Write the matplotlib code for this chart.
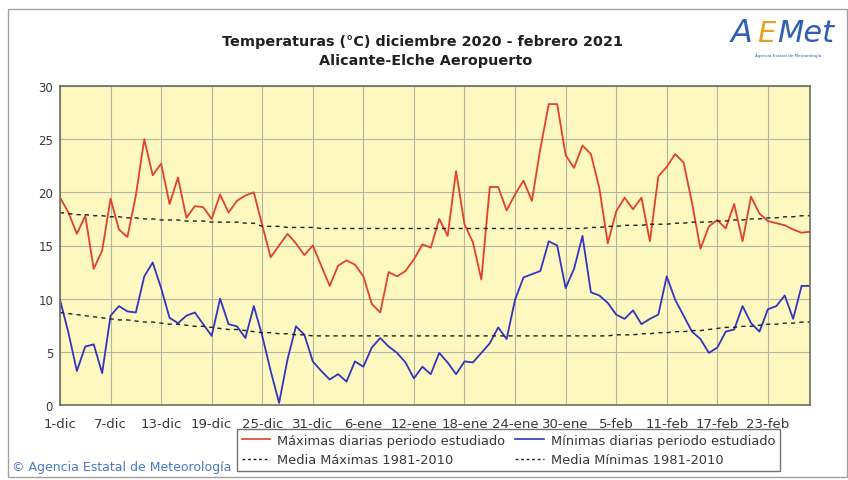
import matplotlib.pyplot as plt
from matplotlib.lines import Line2D
from matplotlib.patches import Rectangle

plt.rcParams['font.family'] = ['DejaVu Sans']

# dias desde el 1 de diciembre de 2020 hasta el 28 de febrero de 2021
tick_dias = [0, 6, 12, 18, 24, 30, 36, 42, 48, 54, 60, 66, 72, 78, 84]
tick_etiquetas = ['1-dic', '7-dic', '13-dic', '19-dic', '25-dic', '31-dic', '6-ene',
                  '12-ene', '18-ene', '24-ene', '30-ene', '5-feb', '11-feb', '17-feb', '23-feb']

tmax = [19.5, 18.1, 16.1, 17.8, 12.8, 14.5, 19.4, 16.5, 15.8, 19.7,
        25.0, 21.6, 22.7, 18.9, 21.4, 17.6, 18.7, 18.6, 17.5, 19.8,
        18.1, 19.2, 19.7, 20.0, 16.9, 13.9, 15.0, 16.1, 15.2, 14.1,
        15.0, 13.1, 11.2, 13.1, 13.6, 13.2, 12.1, 9.5, 8.7, 12.5,
        12.1, 12.6, 13.7, 15.1, 14.8, 17.5, 15.9, 22.0, 17.0, 15.3,
        11.8, 20.5, 20.5, 18.3, 19.8, 21.1, 19.2, 24.1, 28.3, 28.3,
        23.5, 22.3, 24.4, 23.6, 20.4, 15.2, 18.2, 19.5, 18.4, 19.5,
        15.4, 21.5, 22.4, 23.6, 22.8, 19.0, 14.7, 16.8, 17.4, 16.6,
        18.9, 15.4, 19.6, 18.0, 17.3, 17.1, 16.9, 16.5, 16.2, 16.3]

tmin = [9.9, 6.8, 3.2, 5.5, 5.7, 3.0, 8.4, 9.3, 8.8, 8.7,
        12.1, 13.4, 11.0, 8.2, 7.7, 8.4, 8.7, 7.6, 6.5, 10.0,
        7.6, 7.4, 6.3, 9.3, 6.5, 3.2, 0.2, 4.3, 7.4, 6.6,
        4.1, 3.2, 2.4, 2.9, 2.2, 4.1, 3.6, 5.4, 6.3, 5.5,
        4.9, 4.0, 2.5, 3.6, 2.9, 4.9, 4.0, 2.9, 4.1, 4.0,
        4.9, 5.8, 7.3, 6.2, 9.9, 12.0, 12.3, 12.6, 15.4, 15.0,
        11.0, 12.8, 15.9, 10.6, 10.3, 9.6, 8.5, 8.1, 8.9, 7.6,
        8.1, 8.5, 12.1, 9.9, 8.4, 6.9, 6.2, 4.9, 5.4, 6.9,
        7.1, 9.3, 7.7, 6.9, 9.0, 9.3, 10.3, 8.1, 11.2, 11.2]

media_max = [18.1, 18.0, 17.9, 17.9, 17.8, 17.8, 17.7, 17.7, 17.6, 17.6,
             17.5, 17.5, 17.4, 17.4, 17.4, 17.3, 17.3, 17.3, 17.2, 17.2,
             17.2, 17.2, 17.1, 17.1, 16.8, 16.8, 16.8, 16.7, 16.7, 16.7,
             16.7, 16.6, 16.6, 16.6, 16.6, 16.6, 16.6, 16.6, 16.6, 16.6,
             16.6, 16.6, 16.6, 16.6, 16.6, 16.6, 16.6, 16.6, 16.6, 16.6,
             16.6, 16.6, 16.6, 16.6, 16.6, 16.6, 16.6, 16.6, 16.6, 16.6,
             16.6, 16.6, 16.6, 16.7, 16.7, 16.8, 16.8, 16.9, 16.9, 16.9,
             17.0, 17.0, 17.0, 17.1, 17.1, 17.2, 17.2, 17.2, 17.3, 17.3,
             17.4, 17.4, 17.5, 17.5, 17.6, 17.6, 17.7, 17.7, 17.8, 17.8]

media_min = [8.7, 8.6, 8.5, 8.4, 8.3, 8.2, 8.1, 8.0, 8.0, 7.9,
             7.8, 7.8, 7.7, 7.6, 7.6, 7.5, 7.4, 7.4, 7.3, 7.2,
             7.1, 7.1, 7.0, 6.9, 6.8, 6.8, 6.7, 6.7, 6.6, 6.6,
             6.5, 6.5, 6.5, 6.5, 6.5, 6.5, 6.5, 6.5, 6.5, 6.5,
             6.5, 6.5, 6.5, 6.5, 6.5, 6.5, 6.5, 6.5, 6.5, 6.5,
             6.5, 6.5, 6.5, 6.5, 6.5, 6.5, 6.5, 6.5, 6.5, 6.5,
             6.5, 6.5, 6.5, 6.5, 6.5, 6.5, 6.6, 6.6, 6.6, 6.7,
             6.7, 6.8, 6.8, 6.9, 6.9, 7.0, 7.0, 7.1, 7.2, 7.3,
             7.3, 7.4, 7.4, 7.5, 7.6, 7.6, 7.7, 7.7, 7.8, 7.8]

dias = list(range(len(tmax)))

W, H = 848, 481
fig = plt.figure(figsize=(W / 100, H / 100), dpi=100)
fig.patches.append(Rectangle((8 / W, 3 / H), 839 / W, 468 / H, transform=fig.transFigure,
                             fill=False, edgecolor='#a0a0a0', lw=1))

ax = fig.add_axes([60 / W, 1 - 406 / H, 750 / W, 319 / H])
ax.set_facecolor('#fcf8bf')
ax.set_xlim(0, 89)
ax.set_ylim(0, 30)

ax.plot(dias, tmax, color='#e4402c', lw=1.3)
ax.plot(dias, tmin, color='#3434c0', lw=1.3)
ax.plot(dias, media_max, color='#202020', lw=1, ls=(0, (3, 3)))
ax.plot(dias, media_min, color='#202020', lw=1, ls=(0, (3, 3)))

ax.set_xticks(tick_dias)
ax.set_xticklabels(tick_etiquetas)
ax.set_yticks(range(0, 31, 5))
ax.tick_params(colors='#383838', length=0)
ax.tick_params(axis='x', labelsize=9.5, pad=9)
ax.tick_params(axis='y', labelsize=8.5, pad=5)
ax.grid(True, color='#b4b4a4', lw=0.8)
for s in ax.spines.values():
    s.set_color('#6e6e60')
    s.set_linewidth(1.2)

fig.text(423 / W, 1 - 42 / H, 'Temperaturas (°C) diciembre 2020 - febrero 2021',
         ha='center', va='center', fontsize=10.4, fontweight='bold', color='#202020')
fig.text(426 / W, 1 - 61 / H, 'Alicante-Elche Aeropuerto',
         ha='center', va='center', fontsize=10.4, fontweight='bold', color='#202020')

# logotipo
fig.text(731 / W, 1 - 34 / H, 'A', fontsize=23, color='#2d5fb8', va='center',
         style='italic', fontweight=200)
fig.text(757 / W, 1 - 34 / H, 'E', fontsize=21, color='#e8a020', va='center',
         style='italic', fontweight=200)
fig.text(777 / W, 1 - 34 / H, 'Met', fontsize=22, color='#2d5fb8', va='center',
         style='italic', fontweight=200)
fig.text(788 / W, 1 - 56 / H, 'Agencia Estatal de Meteorología', fontsize=3, color='#2d5fb8',
         ha='center', va='center')

fig.text(12 / W, 1 - 468 / H, '© Agencia Estatal de Meteorología', fontsize=9,
         color='#4a78cc', va='center')

handles = [Line2D([], [], color='#e4402c', lw=1.2),
           Line2D([], [], color='#202020', lw=1, ls=(0, (2, 2))),
           Line2D([], [], color='#3434c0', lw=1.2),
           Line2D([], [], color='#202020', lw=1, ls=(0, (2, 2)))]
labels = ['Máximas diarias periodo estudiado', 'Media Máximas 1981-2010',
          'Mínimas diarias periodo estudiado', 'Media Mínimas 1981-2010']
leg = fig.legend(handles, labels, loc='upper left', bbox_to_anchor=(237 / W, 1 - 430 / H),
                 ncol=2, fontsize=9.4, frameon=True, fancybox=False, handlelength=2.2,
                 handletextpad=0.5, columnspacing=0.8, borderpad=0.35, labelspacing=0.5,
                 borderaxespad=0)
leg.get_frame().set_edgecolor('#505050')
leg.get_frame().set_linewidth(1)
for t in leg.get_texts():
    t.set_color('#383838')

fig.savefig('out.png', dpi=100)
